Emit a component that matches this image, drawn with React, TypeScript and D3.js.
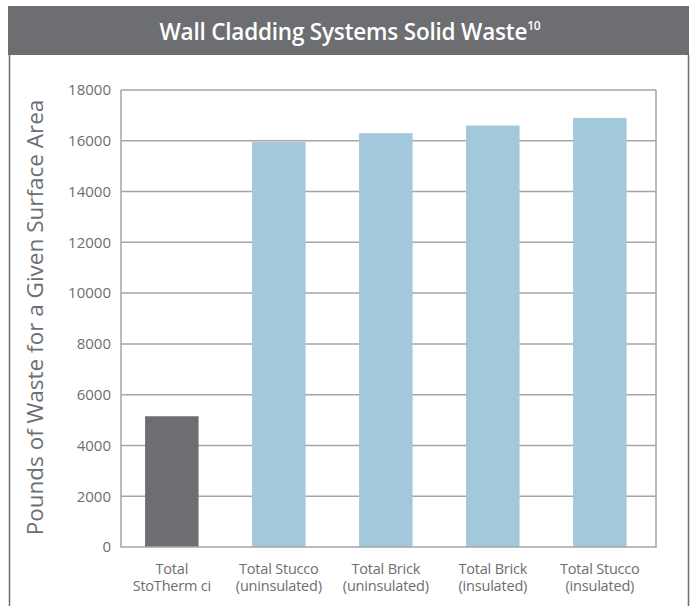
import React, { useEffect, useRef } from "react";
import * as d3 from "d3";

const categories = [
  ["Total", "StoTherm ci"],
  ["Total Stucco", "(uninsulated)"],
  ["Total Brick", "(uninsulated)"],
  ["Total Brick", "(insulated)"],
  ["Total Stucco", "(insulated)"],
];
const values = [5150, 15950, 16300, 16600, 16900];
const barColors = ["#6d6e71", "#a3c8dc", "#a3c8dc", "#a3c8dc", "#a3c8dc"];
const yTicks = [0, 2000, 4000, 6000, 8000, 10000, 12000, 14000, 16000, 18000];

const W = 694;
const H = 606;
const plot = { left: 121, right: 656, top: 90, bottom: 547 };
const font = "'Open Sans', 'Noto Sans', sans-serif";
const gray = "#6d6e71";

export default function App() {
  const ref = useRef<SVGSVGElement | null>(null);

  useEffect(() => {
    if (!ref.current) return;
    const svg = d3.select(ref.current);
    svg.selectAll("*").remove();

    // header band + frame
    svg.append("rect")
      .attr("x", 8).attr("y", 6).attr("width", 681).attr("height", 49)
      .attr("fill", gray);
    svg.append("path")
      .attr("d", `M9.5,55 V${H} M688.5,55 V${H}`)
      .attr("stroke", gray).attr("stroke-width", 1.5).attr("fill", "none");

    const title = svg.append("text")
      .attr("x", 350).attr("y", 40)
      .attr("text-anchor", "middle")
      .attr("fill", "#ffffff")
      .attr("font-family", font)
      .attr("font-weight", 600)
      .attr("font-size", 22.5)
      .attr("letter-spacing", -0.2);
    title.append("tspan").text("Wall Cladding Systems Solid Waste");
    title.append("tspan").attr("font-size", 12).attr("dy", -10).text("10");

    const x = d3.scaleBand<number>()
      .domain(values.map((_, i) => i))
      .range([plot.left, plot.right])
      .paddingInner(0.5)
      .paddingOuter(0.25)
      .align(0.45);

    const y = d3.scaleLinear()
      .domain([0, 18000])
      .range([plot.bottom, plot.top]);

    // grid
    svg.append("g")
      .selectAll("line")
      .data(yTicks.filter(t => t > 0))
      .enter()
      .append("line")
      .attr("x1", plot.left).attr("x2", plot.right)
      .attr("y1", d => y(d)).attr("y2", d => y(d))
      .attr("stroke", "#a5a5a5").attr("stroke-width", 1.5);

    // bars
    svg.append("g")
      .selectAll("rect")
      .data(values)
      .enter()
      .append("rect")
      .attr("x", (_, i) => x(i) || 0)
      .attr("y", d => y(d))
      .attr("width", x.bandwidth())
      .attr("height", d => plot.bottom - y(d))
      .attr("fill", (_, i) => barColors[i]);

    // plot frame
    svg.append("path")
      .attr("d", `M${plot.left},${plot.top} V${plot.bottom} H${plot.right} V${plot.top}`)
      .attr("stroke", "#a5a5a5").attr("stroke-width", 1.5).attr("fill", "none");

    // y axis
    const yAxis = svg.append("g")
      .attr("transform", `translate(${plot.left},0)`)
      .call(d3.axisLeft(y).tickValues(yTicks).tickSize(0).tickPadding(10).tickFormat(d3.format("d")));
    yAxis.select(".domain").remove();
    yAxis.selectAll("text")
      .attr("fill", gray)
      .attr("font-family", font)
      .attr("font-size", 15);

    // x labels, two lines each
    [0, 1].forEach(line => {
      svg.append("g")
        .selectAll("text")
        .data(categories)
        .enter()
        .append("text")
        .attr("x", (_, i) => (x(i) || 0) + x.bandwidth() / 2)
        .attr("y", 574 + line * 17)
        .attr("text-anchor", "middle")
        .attr("fill", gray)
        .attr("font-family", font)
        .attr("font-size", 14.5)
        .attr("letter-spacing", -0.2)
        .text(d => d[line]);
    });

    // y title
    svg.append("text")
      .attr("transform", `translate(43,${(plot.top + plot.bottom) / 2 - 1}) rotate(-90)`)
      .attr("text-anchor", "middle")
      .attr("fill", gray)
      .attr("font-family", font)
      .attr("font-size", 22.5)
      .text("Pounds of Waste for a Given Surface Area");
  }, []);

  return (
    <div style={{ position: "absolute", left: 0, top: 0 }}>
      <svg ref={ref} width={W} height={H} style={{ display: "block", background: "#fff" }} />
    </div>
  );
}
